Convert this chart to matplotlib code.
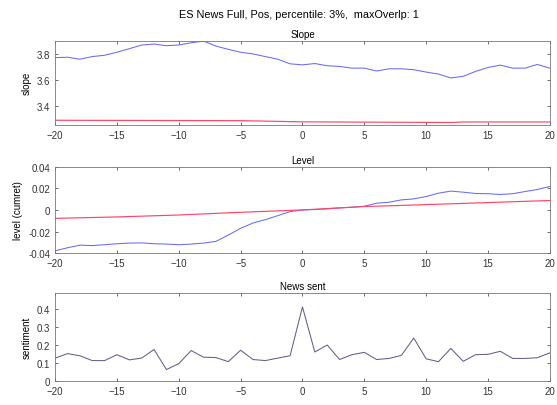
import matplotlib.pyplot as plt
import numpy as np

plt.rcParams['font.family'] = ['Liberation Sans', 'DejaVu Sans']

# data
lags = np.arange(-20, 21)

slope_blue = [3.772, 3.775, 3.76, 3.78, 3.79, 3.813, 3.84, 3.868, 3.875, 3.863,
              3.868, 3.885, 3.898, 3.86, 3.835, 3.813, 3.80, 3.78, 3.76, 3.725,
              3.717, 3.727, 3.71, 3.705, 3.692, 3.692, 3.67, 3.687, 3.687, 3.68,
              3.662, 3.647, 3.617, 3.63, 3.667, 3.697, 3.715, 3.692, 3.692, 3.72,
              3.692]
slope_red_x = [-20, -5, 0, 12, 13, 20]
slope_red = [3.295, 3.292, 3.283, 3.278, 3.282, 3.282]

level_blue = [-0.0378, -0.035, -0.0326, -0.033, -0.0322, -0.0313, -0.0307, -0.0305,
              -0.0313, -0.0316, -0.0322, -0.0316, -0.0307, -0.0291, -0.0233, -0.017,
              -0.0121, -0.009, -0.0053, -0.0016, 0.0, 0.0003, 0.001, 0.0019, 0.0025,
              0.0034, 0.0062, 0.0071, 0.0093, 0.0102, 0.0124, 0.0155, 0.0174, 0.0164,
              0.0152, 0.015, 0.0143, 0.015, 0.017, 0.0189, 0.0217]
level_red_x = [-20, -15, -10, -5, 0, 5, 10, 15, 20]
level_red = [-0.0078, -0.0065, -0.0047, -0.0022, 0.0, 0.0031, 0.0049, 0.0068, 0.0087]

sentiment = [0.126, 0.151, 0.139, 0.112, 0.112, 0.145, 0.116, 0.126, 0.174, 0.062,
             0.095, 0.168, 0.131, 0.129, 0.106, 0.17, 0.118, 0.112, 0.126, 0.139,
             0.412, 0.16, 0.199, 0.118, 0.145, 0.158, 0.118, 0.124, 0.141, 0.238,
             0.122, 0.106, 0.18, 0.108, 0.145, 0.147, 0.164, 0.124, 0.124, 0.128,
             0.155]

fig = plt.figure(figsize=(5.57, 4.06), dpi=100)
ax1 = fig.add_axes([0.099, 0.69, 0.888, 0.207])
ax2 = fig.add_axes([0.099, 0.374, 0.888, 0.213])
ax3 = fig.add_axes([0.099, 0.060, 0.888, 0.216])

fs = 7
for ax in (ax1, ax2, ax3):
    ax.set_xlim(-20, 20)
    ax.set_xticks(np.arange(-20, 21, 5))
    ax.tick_params(direction='in', labelsize=fs, length=2.5, width=0.5,
                   top=True, right=True, colors='#333333')
    for s in ax.spines.values():
        s.set_linewidth(0.6)
        s.set_color('#777777')

blue = '#6a6af5'
red = '#ff4466'

ax1.plot(lags, slope_blue, color=blue, lw=0.75)
ax1.plot(slope_red_x, slope_red, color=red, lw=0.85)
ax1.set_ylim(3.26, 3.9)
ax1.set_yticks([3.4, 3.6, 3.8])
ax1.set_ylabel('slope', fontsize=fs)
ax1.set_title('Slope', fontsize=fs, pad=3)

ax2.plot(lags, level_blue, color=blue, lw=0.75)
ax2.plot(level_red_x, level_red, color=red, lw=0.85)
ax2.set_ylim(-0.04, 0.04)
ax2.set_yticks([-0.04, -0.02, 0, 0.02, 0.04])
ax2.set_yticklabels(['-0.04', '-0.02', '0', '0.02', '0.04'])
ax2.set_ylabel('level (cumret)', fontsize=fs)
ax2.set_title('Level', fontsize=fs, pad=3)

ax3.plot(lags, sentiment, color='#606088', lw=0.75)
ax3.set_ylim(0, 0.49)
ax3.set_yticks([0, 0.1, 0.2, 0.3, 0.4])
ax3.set_yticklabels(['0', '0.1', '0.2', '0.3', '0.4'])
ax3.set_ylabel('sentiment', fontsize=fs)
ax3.set_title('News sent', fontsize=fs, pad=3)

fig.text(0.537, 0.963, 'ES News Full, Pos, percentile: 3%,  maxOverlp: 1',
         ha='center', va='center', fontsize=7.8)

fig.savefig('out.png', dpi=100)
